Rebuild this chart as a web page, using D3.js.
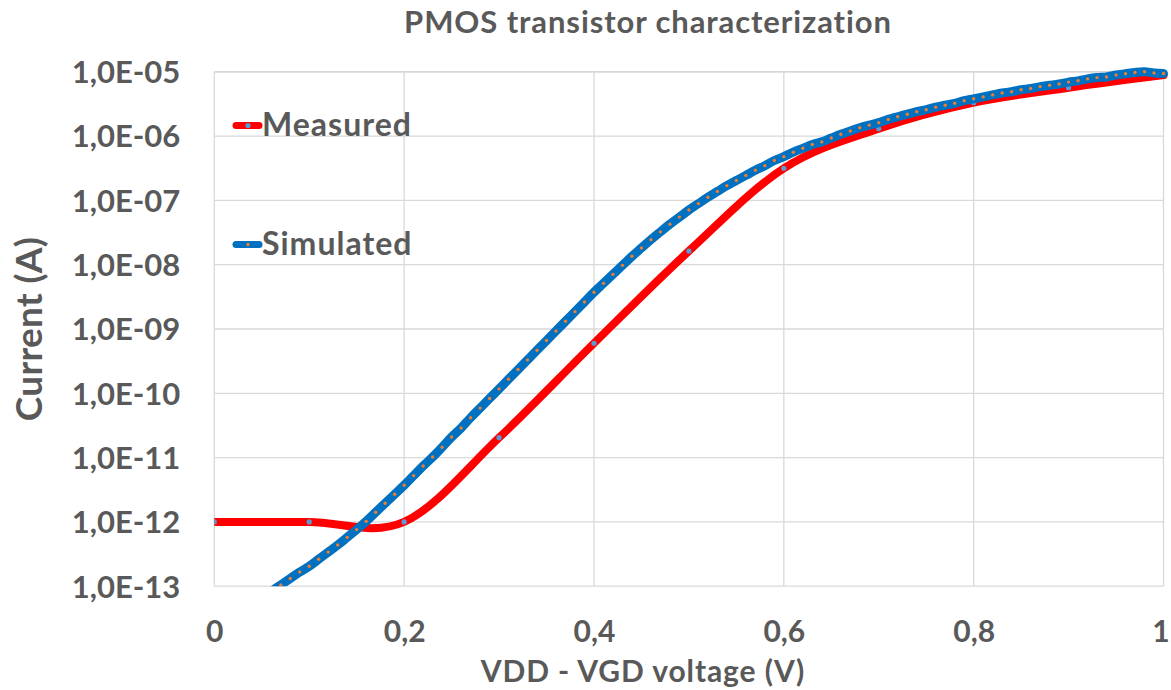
<!DOCTYPE html>
<html>
<head>
<meta charset="utf-8">
<script src="https://cdn.jsdelivr.net/npm/d3@7"></script>
<style>
  html, body { margin: 0; padding: 0; background: #ffffff; }
  svg { display: block; }
  text { font-family: Lato, "Open Sans", "DejaVu Sans", sans-serif; font-weight: 700; fill: #595959; }
</style>
</head>
<body>
<svg id="chart" width="1171" height="690"></svg>
<script>
// ---------------- data ----------------
const chartTitle = "PMOS transistor characterization";
const xAxisTitle = "VDD - VGD voltage (V)";
const yAxisTitle = "Current (A)";
const seriesNames = ["Measured", "Simulated"];

const measuredVoltage = [0, 0.1, 0.2, 0.3, 0.4, 0.5, 0.6, 0.7, 0.8, 0.9, 1.0];
const measuredCurrent = [1.0e-12, 1.0e-12, 1.0e-12, 2.04e-11, 6.0e-10, 1.63e-8, 3.15e-7, 1.30e-6, 3.31e-6, 5.66e-6, 8.9e-6];

const simulatedVoltage = [
  0.06, 0.07, 0.08, 0.09, 0.10, 0.11, 0.12, 0.13, 0.14, 0.15, 0.16, 0.17, 0.18, 0.19,
  0.20, 0.21, 0.22, 0.23, 0.24, 0.25, 0.26, 0.27, 0.28, 0.29, 0.30, 0.31, 0.32, 0.33,
  0.34, 0.35, 0.36, 0.37, 0.38, 0.39, 0.40, 0.41, 0.42, 0.43, 0.44, 0.45, 0.46, 0.47,
  0.48, 0.49, 0.50, 0.51, 0.52, 0.53, 0.54, 0.55, 0.56, 0.57, 0.58, 0.59, 0.60, 0.61,
  0.62, 0.63, 0.64, 0.65, 0.66, 0.67, 0.68, 0.69, 0.70, 0.71, 0.72, 0.73, 0.74, 0.75,
  0.76, 0.77, 0.78, 0.79, 0.80, 0.81, 0.82, 0.83, 0.84, 0.85, 0.86, 0.87, 0.88, 0.89,
  0.90, 0.91, 0.92, 0.93, 0.94, 0.95, 0.96, 0.97, 0.98, 0.99, 1.00
];
const simulatedCurrent = [
  8.3e-14, 1.05e-13, 1.32e-13, 1.66e-13, 2.04e-13, 2.63e-13, 3.39e-13, 4.37e-13, 5.75e-13, 7.59e-13,
  1.02e-12, 1.41e-12, 1.95e-12, 2.69e-12, 3.72e-12, 5.25e-12, 7.41e-12, 1.02e-11, 1.45e-11, 2.09e-11,
  2.88e-11, 4.17e-11, 5.89e-11, 8.32e-11, 1.17e-10, 1.66e-10, 2.34e-10, 3.31e-10, 4.68e-10, 6.61e-10,
  9.33e-10, 1.32e-9, 1.86e-9, 2.63e-9, 3.72e-9, 5.13e-9, 7.08e-9, 9.77e-9, 1.35e-8, 1.82e-8,
  2.45e-8, 3.24e-8, 4.27e-8, 5.50e-8, 7.08e-8, 8.91e-8, 1.12e-7, 1.38e-7, 1.70e-7, 2.04e-7,
  2.45e-7, 2.95e-7, 3.47e-7, 4.17e-7, 4.79e-7, 5.62e-7, 6.46e-7, 7.41e-7, 8.13e-7, 9.33e-7,
  1.07e-6, 1.20e-6, 1.35e-6, 1.48e-6, 1.62e-6, 1.82e-6, 2.00e-6, 2.19e-6, 2.40e-6, 2.57e-6,
  2.82e-6, 3.02e-6, 3.24e-6, 3.55e-6, 3.80e-6, 4.07e-6, 4.37e-6, 4.68e-6, 4.90e-6, 5.25e-6,
  5.50e-6, 5.89e-6, 6.17e-6, 6.46e-6, 6.92e-6, 7.24e-6, 7.76e-6, 8.13e-6, 8.32e-6, 8.91e-6,
  9.33e-6, 9.77e-6, 1.0e-5, 9.6e-6, 9.4e-6
];

const xTickValues = [0, 0.2, 0.4, 0.6, 0.8, 1.0];
const xTickLabels = ["0", "0,2", "0,4", "0,6", "0,8", "1"];
const yTickValues = [1e-5, 1e-6, 1e-7, 1e-8, 1e-9, 1e-10, 1e-11, 1e-12, 1e-13];
const yTickLabels = ["1,0E-05", "1,0E-06", "1,0E-07", "1,0E-08", "1,0E-09", "1,0E-10", "1,0E-11", "1,0E-12", "1,0E-13"];

// ---------------- layout ----------------
const plot = { left: 214.3, right: 1163.5, top: 71.8, bottom: 586.2 };
const colors = {
  measuredLine: "#FF0000", measuredMarker: "#5B9BD5",
  simulatedLine: "#0070C0", simulatedMarker: "#ED7D31",
  grid: "#D9D9D9", text: "#595959"
};

const svg = d3.select("#chart");
const x = d3.scaleLinear().domain([0, 1]).range([plot.left, plot.right]);
const y = d3.scaleLog().domain([1e-13, 1e-5]).range([plot.bottom, plot.top]);

// gridlines
const grid = svg.append("g");
grid.selectAll("line.h").data(yTickValues).enter().append("line")
  .attr("x1", plot.left).attr("x2", plot.right)
  .attr("y1", d => y(d)).attr("y2", d => y(d))
  .attr("stroke", (d, i) => i === 0 ? "#C8C8C8" : colors.grid)
  .attr("stroke-width", 1.3);
grid.selectAll("line.v").data(xTickValues).enter().append("line")
  .attr("y1", plot.top).attr("y2", plot.bottom)
  .attr("x1", d => x(d)).attr("x2", d => x(d))
  .attr("stroke", colors.grid).attr("stroke-width", 1.3);

// axes (labels via d3 axis generators)
const yAxis = d3.axisLeft(y).tickValues(yTickValues)
  .tickFormat((d, i) => yTickLabels[i]).tickSize(0).tickPadding(34);
const gy = svg.append("g").attr("transform", `translate(${plot.left},0)`).call(yAxis);
gy.select(".domain").remove();
gy.selectAll("text").attr("font-size", 31).attr("fill", colors.text)
  .attr("font-family", "Lato, 'Open Sans', sans-serif").attr("font-weight", 700)
  .attr("dy", "0.35em");

const xAxis = d3.axisBottom(x).tickValues(xTickValues)
  .tickFormat((d, i) => xTickLabels[i]).tickSize(0).tickPadding(35);
const gx = svg.append("g").attr("transform", `translate(0,${plot.bottom})`).call(xAxis);
gx.select(".domain").remove();
gx.selectAll("text").attr("font-size", 30).attr("fill", colors.text)
  .attr("font-family", "Lato, 'Open Sans', sans-serif").attr("font-weight", 700)
  .attr("dy", "0.71em")
  .attr("dx", (d, i) => i === xTickValues.length - 1 ? -3 : 0);

// clip
svg.append("clipPath").attr("id", "plotclip").append("rect")
  .attr("x", plot.left).attr("y", plot.top - 10)
  .attr("width", plot.right - plot.left + 10).attr("height", plot.bottom - plot.top + 10);

const line = d3.line().x(d => x(d[0])).y(d => y(d[1])).curve(d3.curveCardinal.tension(0));
const measuredPts = measuredVoltage.map((v, i) => [v, measuredCurrent[i]]);
const simulatedPts = simulatedVoltage.map((v, i) => [v, simulatedCurrent[i]]);

const series = svg.append("g").attr("clip-path", "url(#plotclip)");
// measured
series.append("path").attr("d", line(measuredPts)).attr("fill", "none")
  .attr("stroke", colors.measuredLine).attr("stroke-width", 8)
  .attr("stroke-linecap", "round").attr("stroke-linejoin", "round");
series.selectAll("circle.m").data(measuredPts).enter().append("circle")
  .attr("cx", d => x(d[0])).attr("cy", d => y(d[1])).attr("r", 2.6)
  .attr("fill", colors.measuredMarker);
// simulated
series.append("path").attr("d", line(simulatedPts)).attr("fill", "none")
  .attr("stroke", colors.simulatedLine).attr("stroke-width", 9)
  .attr("stroke-linecap", "round").attr("stroke-linejoin", "round");
series.selectAll("circle.s").data(simulatedPts.filter(d => d[1] >= 1e-13)).enter().append("circle")
  .attr("cx", d => x(d[0])).attr("cy", d => y(d[1])).attr("r", 1.7)
  .attr("fill", colors.simulatedMarker);

// legend
const legend = svg.append("g");
const legendItems = [
  { name: seriesNames[0], line: colors.measuredLine, marker: colors.measuredMarker, r: 2.6, cy: 125.5 },
  { name: seriesNames[1], line: colors.simulatedLine, marker: colors.simulatedMarker, r: 1.7, cy: 244.5 }
];
legendItems.forEach(it => {
  legend.append("line").attr("x1", 236).attr("x2", 259).attr("y1", it.cy).attr("y2", it.cy)
    .attr("stroke", it.line).attr("stroke-width", 7).attr("stroke-linecap", "round");
  legend.append("circle").attr("cx", 248).attr("cy", it.cy).attr("r", it.r).attr("fill", it.marker);
  legend.append("text").attr("x", 262).attr("y", it.cy + 10.5).attr("font-size", 32)
    .attr("letter-spacing", 1).text(it.name);
});

// titles
svg.append("text").attr("x", 648).attr("y", 33).attr("text-anchor", "middle")
  .attr("font-size", 31).attr("letter-spacing", 0.9).text(chartTitle);
svg.append("text").attr("x", 643).attr("y", 682).attr("text-anchor", "middle")
  .attr("font-size", 30).attr("letter-spacing", 0.9).text(xAxisTitle);
svg.append("text").attr("transform", "translate(42,329) rotate(-90)").attr("text-anchor", "middle")
  .attr("font-size", 37).attr("letter-spacing", 0.3).text(yAxisTitle);
</script>
</body>
</html>
